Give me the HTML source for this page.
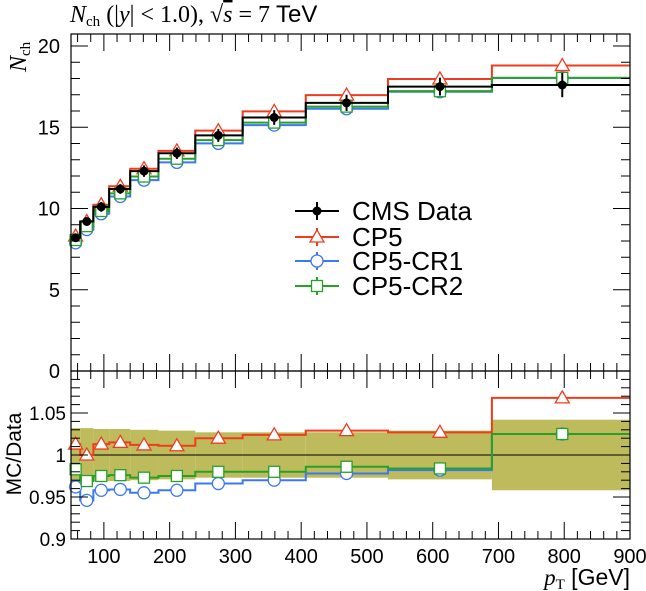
<!DOCTYPE html>
<html><head><meta charset="utf-8"><style>
html,body{margin:0;padding:0;background:#fff}
svg{display:block;font-family:"Liberation Sans",sans-serif}
</style></head><body>
<svg id="chart" width="646" height="591" viewBox="0 0 646 591" xmlns="http://www.w3.org/2000/svg">
<text x="70" y="22" font-size="24"><tspan font-family="Liberation Serif" font-style="italic">N</tspan><tspan font-family="Liberation Serif" font-size="15" dy="4">ch</tspan><tspan dy="-4" font-family="Liberation Serif"> (|</tspan><tspan font-family="Liberation Serif" font-style="italic">y</tspan><tspan font-family="Liberation Serif">| &lt; 1.0), √</tspan><tspan font-family="Liberation Serif" font-style="italic" text-decoration="overline">s</tspan><tspan font-family="Liberation Serif"> = 7 </tspan><tspan>TeV</tspan></text>
<text transform="translate(26,72) rotate(-90)" font-size="24" font-family="Liberation Serif"><tspan font-style="italic">N</tspan><tspan font-size="15" dy="4">ch</tspan></text>
<text transform="translate(21,454) rotate(-90)" font-size="21" text-anchor="middle">MC/Data</text>
<text x="630" y="585" font-size="23" text-anchor="end"><tspan font-family="Liberation Serif" font-style="italic">p</tspan><tspan font-family="Liberation Serif" font-size="15" dy="4">T</tspan><tspan dy="-4"> [GeV]</tspan></text>
<g id="band"></g>
<g id="marks"></g>
<g id="axes"></g>
<g id="legend"></g>
</svg>
<script>
const binEdges=[50,64,84,108,140,183,239,311,407,532,690,900];
const markerX=[57,74,96,125,161,211,274,359,469,611,797];
const dataVals=[8.2,9.2,10.1,11.2,12.3,13.4,14.5,15.6,16.5,17.5,17.6];
const dataErr=[0.25,0.25,0.3,0.3,0.35,0.35,0.4,0.45,0.5,0.55,0.75];
const ratioCP5=[1.013,1.0,1.013,1.015,1.012,1.011,1.02,1.024,1.029,1.027,1.068];
const ratioCR1=[0.962,0.946,0.958,0.959,0.955,0.958,0.966,0.970,0.978,0.982,1.025];
const ratioCR2=[0.983,0.969,0.975,0.976,0.973,0.975,0.980,0.980,0.986,0.984,1.025];
const bandRel=[0.032,0.032,0.031,0.031,0.030,0.029,0.027,0.027,0.027,0.029,0.042];
const topTicks=[0,5,10,15,20];
const ratioTicks=[0.9,0.95,1,1.05];
const xTicks=[100,200,300,400,500,600,700,800,900];

const L=71,R=630,T=34,M=371,B=539;
const X=v=>L+(v-50)/850*(R-L);
const Y=v=>M-v*16.25;
const YR=v=>B-(v-0.9)/0.2*(B-M);
const NS="http://www.w3.org/2000/svg";
function mk(tag,attrs,parent){const e=document.createElementNS(NS,tag);for(const k in attrs)e.setAttribute(k,attrs[k]);parent.appendChild(e);return e;}
const marks=document.getElementById('marks');
const axes=document.getElementById('axes');
const band=document.getElementById('band');

for(let i=0;i<dataVals.length;i++){
  const r=mk('rect',{x:X(binEdges[i]),y:YR(1+bandRel[i]),width:X(binEdges[i+1])-X(binEdges[i]),height:YR(1-bandRel[i])-YR(1+bandRel[i]),fill:'#bdbb5c'},band);
  
  
}
const one=mk('line',{x1:L,x2:R,y1:YR(1),y2:YR(1),stroke:'#000','stroke-width':1},band);



function stepPath(vals,yf){
  let d='';
  for(let i=0;i<vals.length;i++){
    const y=yf(vals[i]);
    d+=(i?'L':'M')+X(binEdges[i])+','+y+'L'+X(binEdges[i+1])+','+y;
  }
  return d;
}
function marker(type,x,y,color,g){
  let e;
  if(type==='tri') e=mk('polygon',{points:`${x},${y-7} ${x-7},${y+5} ${x+7},${y+5}`,fill:'#fff',stroke:color,'stroke-width':1.3},g);
  else if(type==='circ') e=mk('circle',{cx:x,cy:y,r:6,fill:'#fff',stroke:color,'stroke-width':1.3},g);
  else if(type==='sq') e=mk('rect',{x:x-5.5,y:y-5.5,width:11,height:11,fill:'#fff',stroke:color,'stroke-width':1.3},g);
  else e=mk('circle',{cx:x,cy:y,r:4.5,fill:'#000'},g);
  return e;
}
const series=[
  {name:'cp5',ratio:ratioCP5,color:'#f03c1e',m:'tri'},
  {name:'cp5-cr1',ratio:ratioCR1,color:'#3c78f0',m:'circ'},
  {name:'cp5-cr2',ratio:ratioCR2,color:'#28a028',m:'sq'}
];
series.forEach(s=>{
  const g=mk('g',{},marks);
  
  
  const mc=dataVals.map((v,i)=>v*s.ratio[i]);
  const p1=mk('path',{d:stepPath(mc,Y),fill:'none',stroke:s.color,'stroke-width':2},g);
  
  
  const p2=mk('path',{d:stepPath(s.ratio,YR),fill:'none',stroke:s.color,'stroke-width':2},g);
  
  
  for(let i=0;i<mc.length;i++){
    const a=marker(s.m,X(markerX[i]),Y(mc[i]),s.color,g);
    
    
    const b=marker(s.m,X(markerX[i]),YR(s.ratio[i]),s.color,g);
    
    
  }
});
const dg=mk('g',{},marks);


const dp=mk('path',{d:stepPath(dataVals,Y),fill:'none',stroke:'#000','stroke-width':2},dg);


for(let i=0;i<dataVals.length;i++){
  const x=X(markerX[i]);
  const eb=mk('line',{x1:x,x2:x,y1:Y(dataVals[i]+dataErr[i]),y2:Y(dataVals[i]-dataErr[i]),stroke:'#000','stroke-width':2},dg);
  
  
  const pt=marker('dot',x,Y(dataVals[i]),'#000',dg);
  
  
}

[[T,M],[M,B]].forEach(([t,b],k)=>{
  const f=mk('rect',{x:L,y:t,width:R-L,height:b-t,fill:'none',stroke:'#000','stroke-width':1.2},axes);
  
  
});
function xtick(v,len){
  const x=X(v);
  [[T,1],[M,1],[M,-1],[B,-1]].forEach(([y,d])=>mk('line',{x1:x,x2:x,y1:y,y2:y+d*len,stroke:'#000','stroke-width':1},axes));
}
for(let v=60;v<=890;v+=20) if(v%100) xtick(v,8);
xTicks.forEach(v=>{
  xtick(v,17);
  const t=mk('text',{x:X(v),y:563,'font-size':20,'text-anchor':'middle'},axes);
  t.textContent=v;
  
  
});
function ytick(y,len){
  mk('line',{x1:L,x2:L+len,y1:y,y2:y,stroke:'#000','stroke-width':1},axes);
  mk('line',{x1:R,x2:R-len,y1:y,y2:y,stroke:'#000','stroke-width':1},axes);
}
for(let v=1;v<=20;v++) if(v%5) ytick(Y(v),9);
topTicks.forEach(v=>{
  ytick(Y(v),17);
  const t=mk('text',{x:60,y:Y(v)+7,'font-size':20,'text-anchor':'end'},axes);
  t.textContent=v;
  
  
});
for(let k=91;k<110;k++){ if(k%5) ytick(YR(k/100),9);}
ratioTicks.forEach(v=>{
  ytick(YR(v),17);
  const t=mk('text',{x:66,y:YR(v)+7,'font-size':19,'text-anchor':'end'},axes);
  t.textContent=v;
  
  
});

const lg=document.getElementById('legend');
const entries=[['CMS Data','#000','dot',211],['CP5','#f03c1e','tri',237],['CP5-CR1','#3c78f0','circ',261],['CP5-CR2','#28a028','sq',286]];
entries.forEach(([lab,c,m,y])=>{
  const g=mk('g',{},lg);
  
  
  mk('line',{x1:295,x2:339,y1:y,y2:y,stroke:c,'stroke-width':2},g);
  mk('line',{x1:317,x2:317,y1:y-9,y2:y+9,stroke:c,'stroke-width':2},g);
  marker(m,317,y,c,g);
  const t=mk('text',{x:352,y:y+9,'font-size':26},g);
  t.textContent=lab;
});
</script>
</body></html>
